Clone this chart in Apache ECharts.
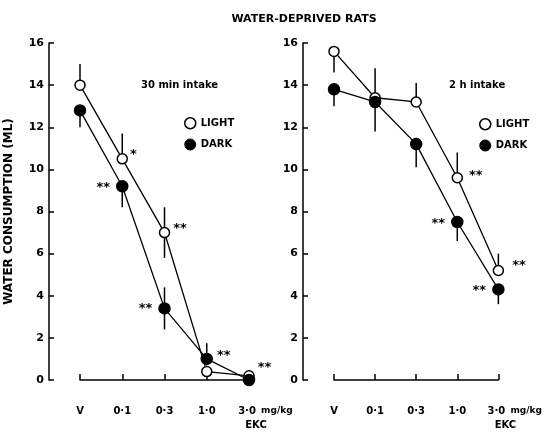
<!DOCTYPE html>
<html>
<head>
<meta charset="utf-8">
<script src="https://cdn.jsdelivr.net/npm/echarts@6/dist/echarts.min.js"></script>
<style>html,body{margin:0;padding:0;background:#fff}#c{width:545px;height:433px}</style>
</head>
<body>
<div id="c"></div>
<script>
var doses = ['V', '0·1', '0·3', '1·0', '3·0'];
var yTicks = [0, 2, 4, 6, 8, 10, 12, 14, 16];

// 30 min intake
var min30Light = [14.0, 10.5, 7.0, 0.4, 0.2];
var min30Dark = [12.8, 9.2, 3.4, 1.0, 0.0];
var min30LightErrUp = [1.0, 1.2, 1.2, 0, 0];
var min30LightErrDown = [0, 0, 1.2, 0, 0];
var min30DarkErrUp = [0, 0, 1.0, 0.75, 0];
var min30DarkErrDown = [0.8, 1.0, 1.0, 0, 0];
var min30LightSig = ['', '*', '**', '', '**'];
var min30DarkSig = ['', '**', '**', '**', ''];

// 2 h intake
var h2Light = [15.6, 13.4, 13.2, 9.6, 5.2];
var h2Dark = [13.8, 13.2, 11.2, 7.5, 4.3];
var h2LightErrUp = [0, 1.4, 0.9, 1.2, 0.8];
var h2LightErrDown = [1.0, 0, 0, 0, 0];
var h2DarkErrUp = [0, 0, 0, 0, 0];
var h2DarkErrDown = [0.8, 1.4, 1.1, 0.9, 0.7];
var h2LightSig = ['', '', '', '**', '**'];
var h2DarkSig = ['', '', '', '**', '**'];

var FONT = '"DejaVu Sans", sans-serif';

function errData(vals, up, down) {
  return vals.map(function (v, i) { return [i, v - down[i], v + up[i]]; });
}
function errSeries(x, y, vals, up, down) {
  return {
    type: 'custom', xAxisIndex: x, yAxisIndex: y, z: 1, silent: true,
    data: errData(vals, up, down),
    renderItem: function (params, api) {
      var a = api.coord([api.value(0), api.value(1)]);
      var b = api.coord([api.value(0), api.value(2)]);
      return { type: 'line', shape: { x1: a[0], y1: a[1], x2: b[0], y2: b[1] },
        style: { stroke: '#000', lineWidth: 1.5 } };
    }
  };
}
function lineSeries(name, x, y, vals, sig, filled, pos, offs) {
  return {
    name: name, type: 'line', xAxisIndex: x, yAxisIndex: y, z: 3,
    symbol: 'circle', symbolSize: filled ? 11 : 10,
    itemStyle: { color: filled ? '#000' : '#fff', borderColor: '#000', borderWidth: 1.5 },
    lineStyle: { color: '#000', width: 1.3 },
    data: vals.map(function (v, i) {
      return { value: v, label: { show: sig[i] !== '', formatter: sig[i], position: pos[i],
        offset: offs[i] || [0, 4], distance: 6, color: '#000', fontSize: 13, fontWeight: 'bold', fontFamily: FONT } };
    }),
    animation: false
  };
}
function yAxisCfg(grid, name) {
  return {
    type: 'value', gridIndex: grid, min: 0, max: 16, interval: 2, offset: 31,
    name: name, nameLocation: 'middle', nameGap: 34, nameRotate: 90,
    nameTextStyle: { color: '#000', fontWeight: 'bold', fontSize: 12, fontFamily: FONT },
    axisLine: { show: true, lineStyle: { color: '#000', width: 1.5 } },
    axisTick: { show: true, inside: true, length: 5, lineStyle: { color: '#000', width: 1.5 } },
    axisLabel: { color: '#000', fontWeight: 'bold', fontSize: 11, fontFamily: FONT, margin: 5,
      formatter: function (v) { return yTicks.indexOf(v) >= 0 ? String(v) : ''; } },
    splitLine: { show: false }
  };
}
function xAxisCfg(grid) {
  return {
    type: 'category', gridIndex: grid, data: doses, boundaryGap: false, position: 'bottom', offset: 17,
    axisLine: { show: true, lineStyle: { color: '#000', width: 1.5 } },
    axisTick: { show: true, inside: true, length: 6, lineStyle: { color: '#000', width: 1.5 } },
    axisLabel: { color: '#000', fontWeight: 'bold', fontSize: 10, fontFamily: FONT, margin: 9, interval: 0,
      formatter: function (v, i) {
        if (i === doses.length - 1) return '{p|}{a|' + v + '}{u|mg/kg}\n{e|EKC}';
        return v;
      },
      rich: {
        p: { width: 34 },
        a: { fontWeight: 'bold', fontSize: 10, fontFamily: FONT, color: '#000' },
        u: { width: 34, fontWeight: 'bold', fontSize: 9, fontFamily: FONT, color: '#000', padding: [0, 0, 0, 4] },
        e: { fontWeight: 'bold', fontSize: 10, fontFamily: FONT, color: '#000', padding: [4, 0, 0, 14] }
      } },
    splitLine: { show: false }
  };
}
function legendCfg(left, top) {
  return {
    left: left, top: top, orient: 'vertical', itemGap: 9, itemWidth: 11, itemHeight: 11, padding: 0,
    textStyle: { color: '#000', fontWeight: 'bold', fontSize: 10, fontFamily: FONT },
    data: [
      { name: 'LIGHT', icon: 'circle', itemStyle: { color: '#fff', borderColor: '#000', borderWidth: 1.5 } },
      { name: 'DARK', icon: 'circle', itemStyle: { color: '#000', borderColor: '#000', borderWidth: 1 } }
    ],
    selectedMode: false
  };
}

var chart = echarts.init(document.getElementById('c'), null, { renderer: 'canvas' });
chart.setOption({
  backgroundColor: '#fff',
  animation: false,
  title: [
    { text: 'WATER-DEPRIVED RATS', left: 299, top: 9, textAlign: 'center',
      textStyle: { color: '#000', fontWeight: 'bold', fontSize: 11, fontFamily: FONT } },
    { text: '30 min intake', left: 136, top: 75,
      textStyle: { color: '#000', fontWeight: 'bold', fontSize: 10, fontFamily: FONT } },
    { text: '2 h intake', left: 444, top: 75,
      textStyle: { color: '#000', fontWeight: 'bold', fontSize: 10, fontFamily: FONT } }
  ],
  legend: [legendCfg(184, 117), legendCfg(479, 118)],
  grid: [
    { left: 80, top: 43, width: 169, height: 337 },
    { left: 334, top: 43, width: 168, height: 337 }
  ],
  xAxis: [xAxisCfg(0), xAxisCfg(1)],
  yAxis: [yAxisCfg(0, 'WATER CONSUMPTION (ML)'), yAxisCfg(1, '')],
  series: [
    errSeries(0, 0, min30Light, min30LightErrUp, min30LightErrDown),
    errSeries(0, 0, min30Dark, min30DarkErrUp, min30DarkErrDown),
    errSeries(1, 1, h2Light, h2LightErrUp, h2LightErrDown),
    errSeries(1, 1, h2Dark, h2DarkErrUp, h2DarkErrDown),
    lineSeries('LIGHT', 0, 0, min30Light, min30LightSig, false,
      ['right', 'right', 'right', 'right', 'right'], [null, [-4, -4], [-3, -4], null, [-3, -8]]),
    lineSeries('DARK', 0, 0, min30Dark, min30DarkSig, true,
      ['left', 'left', 'left', 'right', 'left'], [null, [0, 1], [0, 0], [-2, -3], null]),
    lineSeries('LIGHT', 1, 1, h2Light, h2LightSig, false,
      ['right', 'right', 'right', 'right', 'right'], [null, null, null, [0, -2], [2, -5]]),
    lineSeries('DARK', 1, 1, h2Dark, h2DarkSig, true,
      ['left', 'left', 'left', 'left', 'left'], [null, null, null, [0, 2], [0, 1]])
  ]
});
</script>
</body>
</html>
